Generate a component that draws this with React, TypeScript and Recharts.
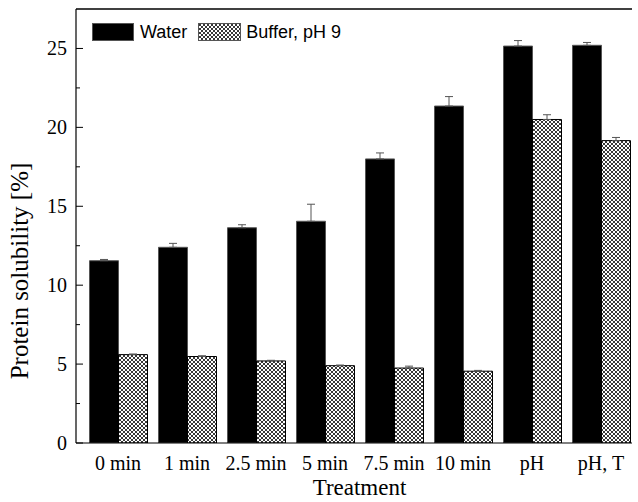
import React from "react";
import {
    BarChart,
    Bar,
    XAxis,
    YAxis,
    ErrorBar,
    ReferenceLine,
    Label
} from "recharts";

const categories = ["0 min", "1 min", "2.5 min", "5 min", "7.5 min", "10 min", "pH", "pH, T"];
const waterValues = [11.55, 12.4, 13.64, 14.05, 18.0, 21.35, 25.15, 25.2];
const waterErrors = [0.08, 0.25, 0.19, 1.08, 0.38, 0.6, 0.35, 0.18];
const bufferValues = [5.6, 5.48, 5.2, 4.9, 4.75, 4.55, 20.5, 19.16];
const bufferErrors = [0.04, 0.05, 0.04, 0.04, 0.12, 0.05, 0.3, 0.2];
const yTicks = [0, 2.5, 5, 7.5, 10, 12.5, 15, 17.5, 20, 22.5, 25];

const data = categories.map((name, i) => ({
    name,
    water: waterValues[i],
    waterErr: [0, waterErrors[i]],
    buffer: bufferValues[i],
    bufferErr: [0, bufferErrors[i]],
}));

const serif = "'Liberation Serif', 'Times New Roman', serif";
const sans = "'Liberation Sans', Arial, sans-serif";

function YTick(props: any) {
    const { x, y, payload } = props;
    const major = payload.value % 5 === 0;
    return (
        <g>
            <line x1={x} x2={x + (major ? 7 : 4)} y1={y} y2={y} stroke="#000" strokeWidth={1} />
            {major && (
                <text x={x - 9} y={y} dy="0.35em" textAnchor="end" fontFamily={serif} fontSize={20} fill="#000">
                    {payload.value}
                </text>
            )}
        </g>
    );
}

function HatchDefs({ id }: { id: string }) {
    return (
        <defs>
            <pattern id={id} patternUnits="userSpaceOnUse" width={4} height={4}>
                <rect width={4} height={4} fill="#fff" />
                <path d="M0,0 L4,4 M4,0 L0,4" stroke="#222" strokeWidth={0.9} />
            </pattern>
        </defs>
    );
}

export default function App() {
    return (
        <div style={{ position: "fixed", left: 0, top: 0, width: 632, height: 502, overflow: "hidden", background: "#fff" }}>
            <BarChart
                width={638}
                height={502}
                data={data}
                margin={{ top: 9, right: -5, bottom: 0, left: 0 }}
                barCategoryGap={6}
                barGap={0}
                accessibilityLayer={false}
            >
                <HatchDefs id="hatch" />
                <XAxis
                    dataKey="name"
                    height={59}
                    padding={{ left: 7.5, right: 7.5 }}
                    tickLine={false}
                    tickMargin={7}
                    axisLine={{ stroke: "#000", strokeWidth: 1.2 }}
                    tick={{ fill: "#000", fontSize: 20, fontFamily: serif }}
                    interval={0}
                >
                    <Label
                        value="Treatment"
                        position="insideBottom"
                        offset={7}
                        style={{ fill: "#000", fontSize: 23, fontFamily: serif }}
                    />
                </XAxis>
                <YAxis
                    width={76}
                    domain={[0, 27.5]}
                    ticks={yTicks}
                    tickSize={0}
                    tickMargin={0}
                    tickLine={false}
                    tick={<YTick />}
                    axisLine={{ stroke: "#000", strokeWidth: 1.2 }}
                    allowDataOverflow
                >
                    <Label
                        content={() => (
                            <text
                                transform="translate(28,271) rotate(-90)"
                                textAnchor="middle"
                                fontFamily={serif}
                                fontSize={25}
                                fill="#000"
                            >
                                Protein solubility [%]
                            </text>
                        )}
                    />
                </YAxis>
                <ReferenceLine y={27.5} stroke="#000" strokeWidth={1.5} ifOverflow="visible" />
                <Bar dataKey="water" fill="#000" stroke="#555" strokeWidth={1} isAnimationActive={false}>
                    <ErrorBar dataKey="waterErr" width={4} stroke="#555" strokeWidth={1} isAnimationActive={false} />
                </Bar>
                <Bar dataKey="buffer" fill="url(#hatch)" stroke="#000" strokeWidth={1} isAnimationActive={false}>
                    <ErrorBar dataKey="bufferErr" width={4} stroke="#555" strokeWidth={1} isAnimationActive={false} />
                </Bar>
            </BarChart>
            {/* legend, drawn over the plot's upper left corner */}
            <div style={{ position: "absolute", left: 92, top: 23, display: "flex", alignItems: "center", fontFamily: sans, fontSize: 18, color: "#000", lineHeight: "18px" }}>
                <svg width={42} height={18} style={{ display: "block" }}>
                    <rect x={0.5} y={0.5} width={41} height={17} fill="#000" stroke="#555" />
                </svg>
                <span style={{ marginLeft: 6 }}>Water</span>
                <svg width={43} height={18} style={{ display: "block", marginLeft: 11 }}>
                    <HatchDefs id="hatchLegend" />
                    <rect x={0.5} y={0.5} width={42} height={17} fill="url(#hatchLegend)" stroke="#555" />
                </svg>
                <span style={{ marginLeft: 5 }}>Buffer, pH 9</span>
            </div>
        </div>
    );
}
